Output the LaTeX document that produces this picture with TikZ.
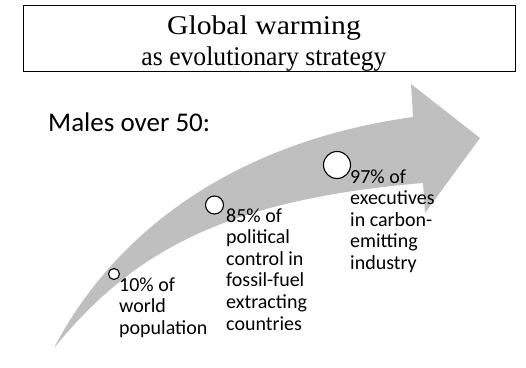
\documentclass[tikz,border=0pt]{standalone}
\usepackage{fontspec}
\setmainfont{Carlito}
\newfontfamily\titlefont{Liberation Serif}
\usepackage{graphicx}
\definecolor{arrowgray}{HTML}{BFBFBF}
\begin{document}
\begin{tikzpicture}[x=1pt,y=-1pt,
  label/.style={anchor=base west,inner sep=0pt,font=\fontsize{20}{21.6}\selectfont},
  dot/.style={circle,draw=black,fill=white,line width=1.1pt,inner sep=0pt},
  titlebox/.style={draw=black,line width=1pt}]
\useasboundingbox (0,0) rectangle (526,367);
% title (descenders cut by the box bottom)
\begin{scope}
\clip (23.5,5) rectangle (515.5,71.5);
\node[anchor=base,inner sep=0pt,font=\titlefont\fontsize{27}{31}\selectfont] (title) at (264,34.5)
  {\begin{tabular}[t]{@{}c@{}}\scalebox{1.1}[1]{Global warming}\\ \scalebox{0.95}[1]{as evolutionary strategy}\end{tabular}};
\end{scope}
\draw[titlebox] (23.5,5) rectangle (515.5,71.5);
% curved arrow
\fill[arrowgray] (54,348) .. controls (110,240) and (225,143) .. (413,117)
  -- (411,84) -- (480,138) -- (425,213) -- (423,183)
  .. controls (220,200) and (130,255) .. (54,348) -- cycle;
% heading
\node[anchor=base west,inner sep=0pt,font=\fontsize{27}{32}\selectfont] (males) at (48,131.7) {Males over 50:};
% circles
\node[dot,minimum size=11pt] (c1) at (114,274) {};
\node[dot,minimum size=18pt] (c2) at (214.5,205) {};
\node[dot,minimum size=27pt] (c3) at (337,165) {};
% labels
\node[label] (l1) at (119,291) {\begin{tabular}[t]{@{}l@{}}10\% of\\world\\population\end{tabular}};
\node[label] (l2) at (226,222) {\begin{tabular}[t]{@{}l@{}}85\% of\\political\\control in\\fossil-fuel\\extracting\\countries\end{tabular}};
\node[label] (l3) at (350,183) {\begin{tabular}[t]{@{}l@{}}97\% of\\executives\\in carbon-\\emitting\\industry\end{tabular}};
\end{tikzpicture}
\end{document}
